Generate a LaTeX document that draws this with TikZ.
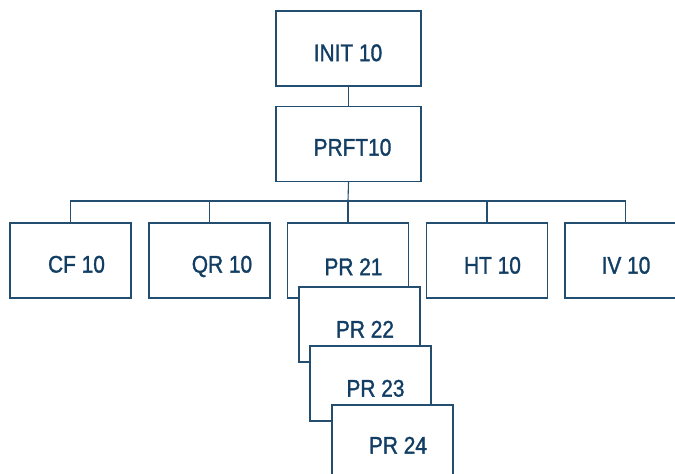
\documentclass[tikz,border=0pt]{standalone}
\usepackage{fontspec}
\setmainfont{Liberation Sans}[FakeStretch=0.87,FakeBold=1.3]
\definecolor{boxline}{RGB}{35,78,112}
\definecolor{boxtext}{RGB}{18,62,100}

\begin{document}
\begin{tikzpicture}[x=1pt,y=-1pt,
  box/.style={draw=boxline, fill=white, line width=1.1pt,
    minimum width=121pt, minimum height=75pt, inner sep=0pt},
  widebox/.style={box, minimum width=145pt},
  txt/.style={text=boxtext, font=\fontsize{24}{28}\selectfont,
    inner sep=0pt, text height=17.2pt, text depth=0pt},
  link/.style={draw=boxline, line width=1.1pt}]
\useasboundingbox (0,0) rectangle (675,474);
\clip (0,0) rectangle (675,474);

%%%%%%%%%%%%%%%%%%%%%%%%%%%%
\node[widebox] (init) at (348.5,48.5) {};
\node[txt] (init-t) at (348,52.5) {INIT 10};

\node[widebox] (prft) at (348.5,144) {};
\node[txt] (prft-t) at (352.5,147) {PRFT10};

%%%%%%%%%%%%%%%%%%%%%%%%%%%%
\node[box] (cf) at (70.5,260.5) {};
\node[txt] (cf-t) at (76.5,264) {CF 10};

\node[box] (qr) at (209.5,260.5) {};
\node[txt] (qr-t) at (222,264) {QR 10};

\node[box] (ht) at (487,260.5) {};
\node[txt] (ht-t) at (492.5,265) {HT 10};

\node[box] (iv) at (625.5,260.5) {};
\node[txt] (iv-t) at (626,265) {IV 10};

%%%%%%%%%%%%%%%%%%%%%%%%%%%%
\node[box] (pr21) at (348,260.5) {};
\node[txt] (pr21-t) at (353.5,266.5) {PR 21};

\node[box] (pr22) at (359.5,324.5) {};
\node[txt] (pr22-t) at (365,329) {PR 22};

\node[box] (pr23) at (370.5,383.5) {};
\node[txt] (pr23-t) at (375.5,388) {PR 23};

\node[box] (pr24) at (392.5,442.5) {};
\node[txt] (pr24-t) at (398,445) {PR 24};

%%%%%%%%%%%%%%%%%%%%%%%%%%%%
\coordinate (bus) at (348,201);
\draw[link] (init.south) -- (prft.north);
\draw[link] (prft.south) -- (bus);
\foreach \n in {cf,qr,pr21,ht,iv}
  \draw[link] (bus) -| (\n.north);
\end{tikzpicture}
\end{document}
